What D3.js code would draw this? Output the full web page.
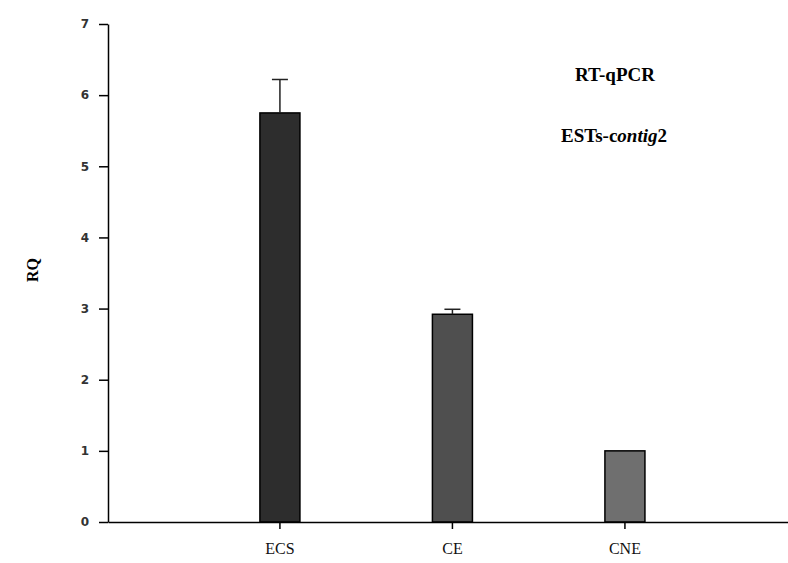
<!DOCTYPE html>
<html>
<head>
<meta charset="utf-8">
<script src="https://cdn.jsdelivr.net/npm/d3@7"></script>
<style>
  html, body { margin: 0; background: #fff; overflow: hidden; }
  svg { display: block; }
</style>
</head>
<body>
<script>
// data
var categories = ["ECS", "CE", "CNE"];
var rqValues = [5.75, 2.92, 1.0];
var rqErrors = [0.47, 0.07, 0];
var barColors = ["#2d2d2d", "#4f4f4f", "#6f6f6f"];
var yTicks = [0, 1, 2, 3, 4, 5, 6, 7];

// set the dimensions and margins of the graph
var margin = {top: 24, right: 0, bottom: 41, left: 108},
    width = 788 - margin.left - margin.right,
    height = 563 - margin.top - margin.bottom;

var x = d3.scaleBand()
          .domain(categories)
          .range([0, width])
          .paddingInner(0.768)
          .paddingOuter(0.855)
          .align(0.515);

var y = d3.scaleLinear()
          .domain([0, 7])
          .range([height, 0]);

var svg = d3.select("body").append("svg")
    .attr("width", 788)
    .attr("height", 563)
    .append("g")
    .attr("transform", "translate(" + margin.left + "," + margin.top + ")");

var data = categories.map(function(c, i) {
    return {name: c, value: rqValues[i], err: rqErrors[i], color: barColors[i]};
});

// bars
svg.selectAll(".bar")
    .data(data)
    .enter().append("rect")
    .attr("class", "bar")
    .attr("x", function(d) { return x(d.name); })
    .attr("width", x.bandwidth())
    .attr("y", function(d) { return y(d.value); })
    .attr("height", function(d) { return height - y(d.value); })
    .attr("fill", function(d) { return d.color; })
    .attr("stroke", "#000")
    .attr("stroke-width", 1.5);

// error bars (upper only)
var eb = svg.selectAll(".err")
    .data(data.filter(function(d) { return d.err > 0; }))
    .enter().append("g")
    .attr("class", "err")
    .attr("stroke", "#222")
    .attr("stroke-width", 1.5);

eb.append("line")
    .attr("x1", function(d) { return x(d.name) + x.bandwidth() / 2; })
    .attr("x2", function(d) { return x(d.name) + x.bandwidth() / 2; })
    .attr("y1", function(d) { return y(d.value); })
    .attr("y2", function(d) { return y(d.value + d.err); });

eb.append("line")
    .attr("x1", function(d) { return x(d.name) + x.bandwidth() / 2 - 8; })
    .attr("x2", function(d) { return x(d.name) + x.bandwidth() / 2 + 8; })
    .attr("y1", function(d) { return y(d.value + d.err); })
    .attr("y2", function(d) { return y(d.value + d.err); });

// x axis
var xAxis = svg.append("g")
    .attr("transform", "translate(0," + height + ")")
    .call(d3.axisBottom(x).tickSizeInner(7).tickSizeOuter(0).tickPadding(14));
xAxis.select(".domain").attr("stroke", "#000").attr("stroke-width", 1.5);
xAxis.selectAll(".tick line").attr("stroke", "#000").attr("stroke-width", 1.5);
xAxis.selectAll("text")
    .attr("fill", "#111")
    .style("font-family", "'Liberation Serif', 'Times New Roman', serif")
    .style("font-size", "16px");

// y axis
var yAxis = svg.append("g")
    .call(d3.axisLeft(y).tickValues(yTicks).tickFormat(d3.format("d"))
        .tickSizeInner(9).tickSizeOuter(0).tickPadding(10));
yAxis.select(".domain").attr("stroke", "#000").attr("stroke-width", 1.5);
yAxis.selectAll(".tick line").attr("stroke", "#000").attr("stroke-width", 1.5);
yAxis.selectAll("text")
    .attr("fill", "#333")
    .style("font-family", "'DejaVu Sans', Verdana, sans-serif")
    .style("font-weight", "bold")
    .style("font-size", "12px");

// y axis label
svg.append("text")
    .attr("transform", "rotate(-90)")
    .attr("x", -(270 - margin.top))
    .attr("y", 38 - margin.left)
    .style("text-anchor", "middle")
    .style("font-family", "'Liberation Serif', 'Times New Roman', serif")
    .style("font-weight", "bold")
    .style("font-size", "16px")
    .text("RQ");

// titles inside the plot
svg.append("text")
    .attr("x", 615 - margin.left)
    .attr("y", 81 - margin.top)
    .attr("text-anchor", "middle")
    .style("font-family", "'Liberation Serif', 'Times New Roman', serif")
    .style("font-weight", "bold")
    .style("font-size", "19px")
    .text("RT-qPCR");

var t2 = svg.append("text")
    .attr("x", 614 - margin.left)
    .attr("y", 142 - margin.top)
    .attr("text-anchor", "middle")
    .style("font-family", "'Liberation Serif', 'Times New Roman', serif")
    .style("font-weight", "bold")
    .style("font-size", "19px");
t2.append("tspan").text("ESTs-c");
t2.append("tspan").style("font-style", "italic").text("ontig");
t2.append("tspan").text("2");
</script>
</body>
</html>
